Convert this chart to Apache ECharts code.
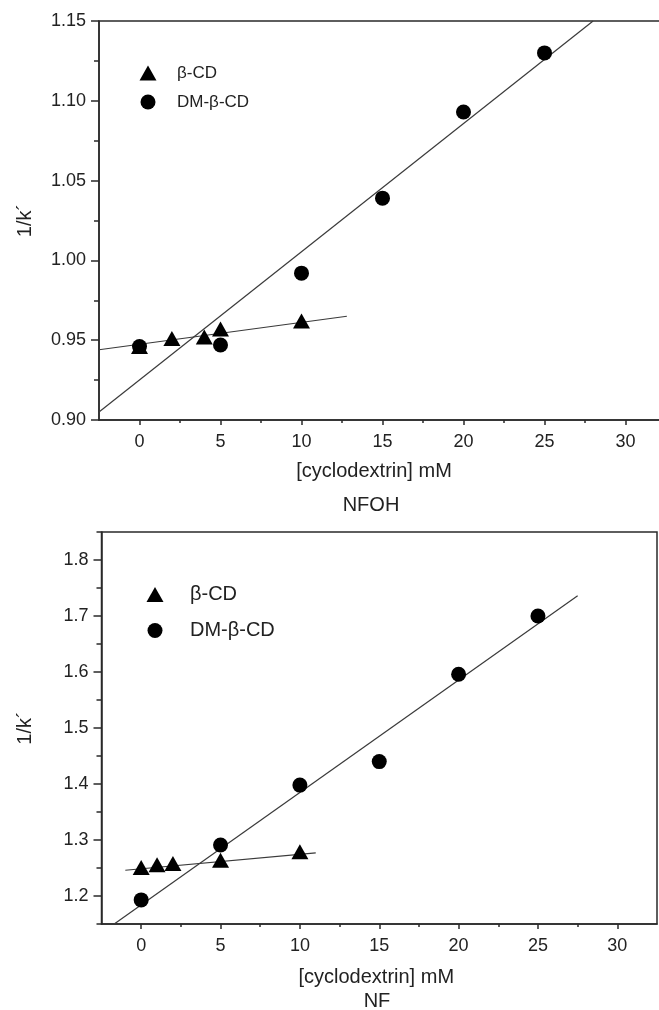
<!DOCTYPE html>
<html>
<head>
<meta charset="utf-8">
<script src="https://cdn.jsdelivr.net/npm/echarts@6/dist/echarts.min.js"></script>
<style>
html,body{margin:0;padding:0;background:#fff;}
#c{width:659px;height:1010px;}
</style>
</head>
<body>
<div id="c"></div>
<script>
// ---- data ----
const xTickValues = [0, 5, 10, 15, 20, 25, 30];
const xMinorValues = [2.5, 7.5, 12.5, 17.5, 22.5, 27.5];
const topYTickValues = [0.90, 0.95, 1.00, 1.05, 1.10, 1.15];
const topYMinorValues = [0.925, 0.975, 1.025, 1.075, 1.125];
const botYTickValues = [1.2, 1.3, 1.4, 1.5, 1.6, 1.7, 1.8];
const botYMinorValues = [1.15, 1.25, 1.35, 1.45, 1.55, 1.65, 1.75, 1.85];

const seriesNames = ['β-CD', 'DM-β-CD'];

// NFOH (top panel)
const nfohBetaX = [0, 2, 4, 5, 10];
const nfohBetaY = [0.946, 0.951, 0.952, 0.957, 0.962];
const nfohDmX = [0, 5, 10, 15, 20, 25];
const nfohDmY = [0.946, 0.947, 0.992, 1.039, 1.093, 1.130];
const nfohBetaFitX = [-2.5, 12.8];
const nfohBetaFitY = [0.944, 0.965];
const nfohDmFitX = [-2.5, 28.0];
const nfohDmFitY = [0.905, 1.150];

// NF (bottom panel)
const nfBetaX = [0, 1, 2, 5, 10];
const nfBetaY = [1.251, 1.256, 1.258, 1.264, 1.279];
const nfDmX = [0, 5, 10, 15, 20, 25];
const nfDmY = [1.193, 1.291, 1.398, 1.440, 1.596, 1.700];
const nfBetaFitX = [-1.0, 11.0];
const nfBetaFitY = [1.246, 1.277];
const nfDmFitX = [-1.7, 27.5];
const nfDmFitY = [1.150, 1.736];

const zip = (xs, ys) => xs.map((x, i) => [x, ys[i]]);

// ---- styles ----
const FONT = '"Liberation Sans", Arial, Helvetica, sans-serif';
const AX = '#2a2a2a';
const FIT = '#3a3a3a';

function mainX(grid, gap, padRight) {
  return {
    type: 'value', gridIndex: grid, min: -2.5, max: 32.5, position: 'bottom',
    name: '[cyclodextrin] mM', nameLocation: 'middle', nameGap: gap,
    nameTextStyle: { fontFamily: FONT, fontSize: 20, color: '#222', padding: [0, padRight, 0, 0] },
    axisLine: { show: true, onZero: false, lineStyle: { color: AX, width: 1.5 } },
    axisTick: { show: true, customValues: xTickValues, length: 5, lineStyle: { color: AX, width: 1.5 } },
    axisLabel: { customValues: xTickValues, fontFamily: FONT, fontSize: 18, color: '#222', margin: 13 },
    splitLine: { show: false }
  };
}
function minorX(grid) {
  return {
    type: 'value', gridIndex: grid, min: -2.5, max: 32.5, position: 'bottom',
    axisLine: { show: false, onZero: false },
    axisTick: { show: true, customValues: xMinorValues, length: 3, lineStyle: { color: AX, width: 1.5 } },
    axisLabel: { show: false }, splitLine: { show: false }
  };
}
function mainY(grid, min, max, ticks, digits, gap) {
  return {
    type: 'value', gridIndex: grid, min: min, max: max, position: 'left',
    name: '1/k´', nameLocation: 'middle', nameGap: gap,
    nameTextStyle: { fontFamily: FONT, fontSize: 20, color: '#222' },
    axisLine: { show: true, onZero: false, lineStyle: { color: AX, width: 1.5 } },
    axisTick: { show: true, customValues: ticks, length: 8, lineStyle: { color: AX, width: 1.5 } },
    axisLabel: { customValues: ticks, fontFamily: FONT, fontSize: 18, color: '#222', margin: 13,
      formatter: v => Number(v).toFixed(digits) },
    splitLine: { show: false }
  };
}
function minorY(grid, min, max, ticks) {
  return {
    type: 'value', gridIndex: grid, min: min, max: max, position: 'left',
    axisLine: { show: false, onZero: false },
    axisTick: { show: true, customValues: ticks, length: 5, lineStyle: { color: AX, width: 1.5 } },
    axisLabel: { show: false }, splitLine: { show: false }
  };
}
function scatter(name, sym, size, xi, yi, data) {
  return {
    type: 'scatter', name: name, xAxisIndex: xi, yAxisIndex: yi, symbol: sym, symbolSize: size,
    itemStyle: { color: '#000', opacity: 1 }, data: data, z: 5
  };
}
function fit(id, xi, yi, data) {
  return {
    type: 'line', id: id, xAxisIndex: xi, yAxisIndex: yi, data: data, symbol: 'none',
    lineStyle: { color: FIT, width: 1.2 }, silent: true, z: 3, animation: false
  };
}
function legend(left, top, gap, fontSize, padLeft) {
  return {
    data: seriesNames, orient: 'vertical', left: left, top: top, itemWidth: 17, itemHeight: 15,
    itemGap: gap, padding: 0, selectedMode: false,
    textStyle: { fontFamily: FONT, fontSize: fontSize, color: '#222', lineHeight: 15, padding: [0, 0, 0, padLeft] }
  };
}

const chart = echarts.init(document.getElementById('c'), null, { renderer: 'canvas' });
chart.setOption({
  animation: false,
  backgroundColor: '#fff',
  title: [
    { text: 'NFOH', left: 371, top: 505, textAlign: 'center', textVerticalAlign: 'middle', padding: 0,
      textStyle: { fontFamily: FONT, fontSize: 20, fontWeight: 'normal', color: '#222' } },
    { text: 'NF', left: 377, top: 1001, textAlign: 'center', textVerticalAlign: 'middle', padding: 0,
      textStyle: { fontFamily: FONT, fontSize: 20, fontWeight: 'normal', color: '#222' } }
  ],
  legend: [
    legend(139.5, 64.5, 12, 17, 15.5),
    legend(146.5, 584.5, 16, 20, 21.5)
  ],
  grid: [
    { left: 99, top: 21, width: 567, height: 399, show: true, borderColor: AX, borderWidth: 1.5,
      backgroundColor: 'transparent', outerBoundsMode: 'none', containLabel: false },
    { left: 101.5, top: 532, width: 555.5, height: 392, show: true, borderColor: AX, borderWidth: 1.5,
      backgroundColor: 'transparent', outerBoundsMode: 'none', containLabel: false }
  ],
  xAxis: [
    mainX(0, 41, 17), minorX(0),
    mainX(1, 43, 6), minorX(1)
  ],
  yAxis: [
    mainY(0, 0.90, 1.15, topYTickValues, 2, 64), minorY(0, 0.90, 1.15, topYMinorValues),
    mainY(1, 1.15, 1.85, botYTickValues, 1, 66), minorY(1, 1.15, 1.85, botYMinorValues)
  ],
  series: [
    fit('nfohBetaFit', 0, 0, zip(nfohBetaFitX, nfohBetaFitY)),
    fit('nfohDmFit', 0, 0, zip(nfohDmFitX, nfohDmFitY)),
    scatter(seriesNames[0], 'triangle', [17, 15], 0, 0, zip(nfohBetaX, nfohBetaY)),
    scatter(seriesNames[1], 'circle', 15, 0, 0, zip(nfohDmX, nfohDmY)),
    fit('nfBetaFit', 2, 2, zip(nfBetaFitX, nfBetaFitY)),
    fit('nfDmFit', 2, 2, zip(nfDmFitX, nfDmFitY)),
    scatter(seriesNames[0], 'triangle', [17, 15], 2, 2, zip(nfBetaX, nfBetaY)),
    scatter(seriesNames[1], 'circle', 15, 2, 2, zip(nfDmX, nfDmY))
  ]
});
</script>
</body>
</html>
